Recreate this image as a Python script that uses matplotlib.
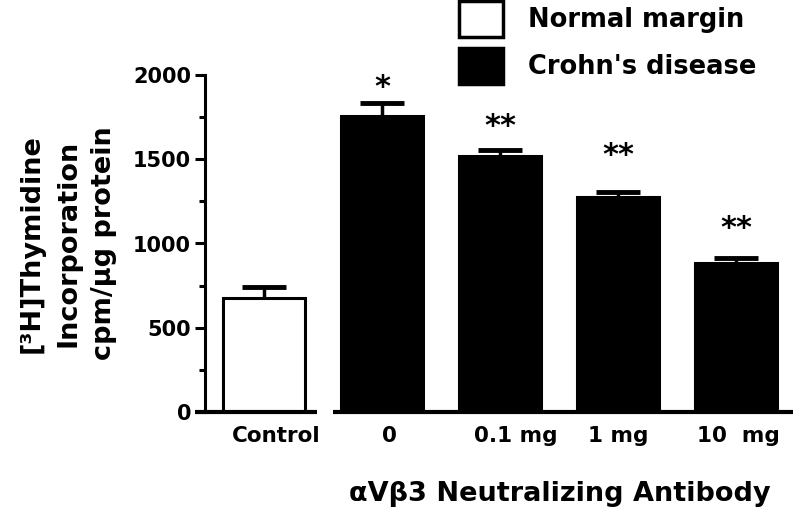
import numpy as np
import matplotlib
matplotlib.use("Agg")
import matplotlib.pyplot as plt
from matplotlib.patches import Patch
from matplotlib.transforms import ScaledTranslation

# values
groups = ["Control", "0", "0.1 mg", "1 mg", "10  mg"]
means = [677, 1757, 1519, 1276, 884]
sems = [65, 77, 36, 30, 30]
tissue = ["Normal margin", "Crohn's disease", "Crohn's disease", "Crohn's disease", "Crohn's disease"]
stars = ["", "*", "**", "**", "**"]

plt.rcParams["font.family"] = "DejaVu Sans"
plt.rcParams["font.weight"] = "bold"
plt.rcParams["axes.labelweight"] = "bold"

fill = {"Normal margin": "white", "Crohn's disease": "black"}

fig = plt.figure(figsize=(8, 5.16), dpi=100)
ax = fig.add_axes([205 / 800, 104 / 516, 590 / 800, 337 / 516])

x = np.arange(len(groups))
ax.bar(x, means, width=0.7, color=[fill[t] for t in tissue],
       edgecolor="black", linewidth=2.2, zorder=2)
eb = ax.errorbar(x, means, yerr=[np.zeros(len(sems)), sems], fmt="none",
                 ecolor="black", elinewidth=2.5, capsize=16, capthick=3.5, zorder=3)
eb[1][0].set_visible(False)  # only the upper cap, Prism style

star_off = [0, 11, 17, 26, 21]
for xi, m, e, s, o in zip(x, means, sems, stars, star_off):
    if s:
        ax.annotate(s, (xi, m + e), xytext=(0, o), textcoords="offset points",
                    ha="center", va="center", fontsize=22, fontweight="bold")

ax.set_xlim(-0.5, 4.5)
ax.set_ylim(0, 2000)
ax.set_yticks(np.arange(0, 2001, 500))
ax.set_yticks(np.arange(250, 2000, 500), minor=True)
ax.set_xticks(x, groups)
ax.tick_params(axis="y", which="major", length=7, width=2.2, labelsize=15, pad=3)
ax.tick_params(axis="y", which="minor", length=4.5, width=2.2)
ax.tick_params(axis="x", length=0, pad=10, labelsize=15.5)
# labels in the original sit a little right of the bar centres
for lab, dx in zip(ax.get_xticklabels(), [12, 7, 16, 0, 2]):
    lab.set_transform(lab.get_transform() + ScaledTranslation(dx / 100, 0, fig.dpi_scale_trans))

for side in ["top", "right", "bottom"]:
    ax.spines[side].set_visible(False)
ax.spines["left"].set_linewidth(2.2)

# broken x axis: one piece under the control, one under the antibody doses
ax.plot([x[0] - 0.585, x[0] + 0.45], [0, 0], color="black", lw=3,
        clip_on=False, solid_capstyle="butt", zorder=4)
ax.plot([x[1] - 0.415, x[-1] + 0.48], [0, 0], color="black", lw=3,
        clip_on=False, solid_capstyle="butt", zorder=4)

ax.set_ylabel("[³H]Thymidine\nIncorporation\ncpm/µg protein", fontsize=19.5,
              linespacing=1.5)
ax.yaxis.set_label_coords(-0.232, 0.5)
ax.yaxis.label.set_va("center")

ax.set_xlabel("αVβ3 Neutralizing Antibody", fontsize=19.5)
ax.xaxis.set_label_coords(0.601, -0.243)
ax.xaxis.label.set_va("center")

handles = [Patch(facecolor=fill[t], edgecolor="black", linewidth=2.5)
           for t in ["Normal margin", "Crohn's disease"]]
fig.legend(handles, ["Normal margin", "Crohn's disease"], loc="upper left",
           bbox_to_anchor=(458 / 800, 1.0), frameon=False,
           prop={"size": 18.5, "weight": "bold"}, handlelength=1.72,
           handleheight=1.75, handletextpad=0.95, labelspacing=0.45,
           borderpad=0.05, borderaxespad=0)

fig.savefig("out.png", dpi=100)
